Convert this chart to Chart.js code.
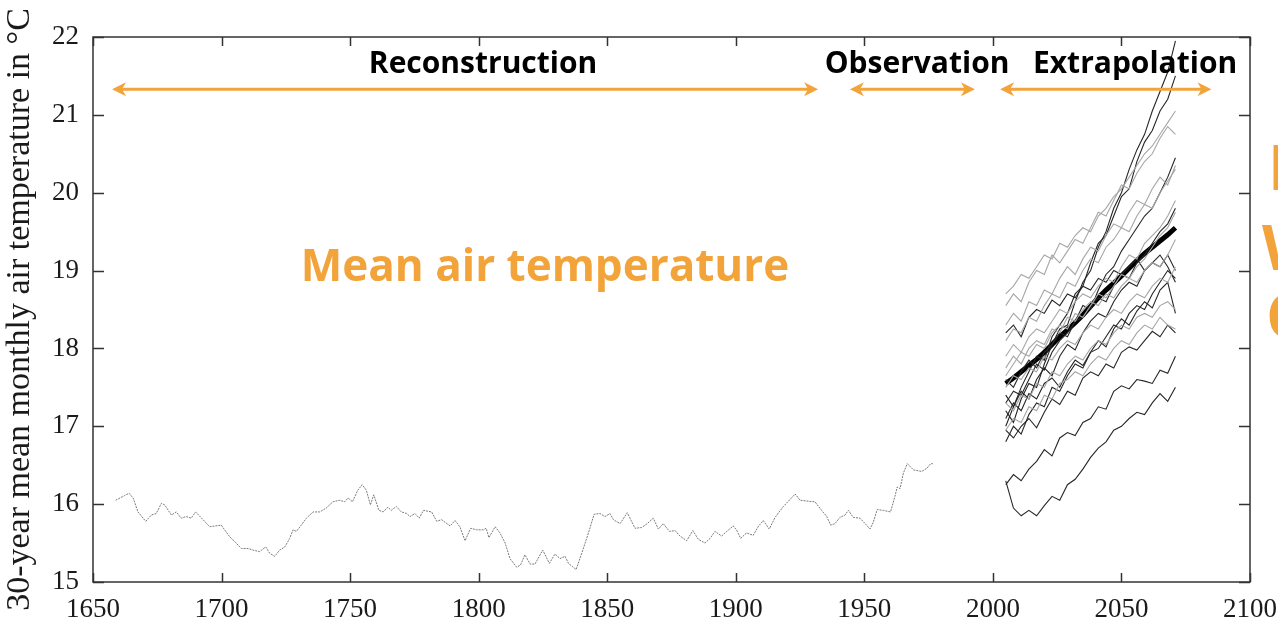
<!DOCTYPE html>
<html>
<head>
<meta charset="utf-8">
<script src="https://cdn.jsdelivr.net/npm/chart.js@4.4.1/dist/chart.umd.min.js"></script>
<style>
  html, body { margin: 0; padding: 0; background: #fff; }
  #wrap { width: 1278px; height: 624px; }
</style>
</head>
<body>
<div id="wrap"><canvas id="myChart" width="1278" height="624"></canvas></div>
<script>
// reconstruction + observation series (1659-1976)
const recYears = [1658.8,1662.3,1664,1665.6,1667.5,1670.5,1672.7,1674.6,1676.6,1677.9,1680.5,1682.4,1684.3,1686.3,1688.2,1689.9,1692.8,1695.4,1699.9,1701.2,1703.2,1705.1,1707.7,1710.3,1712.2,1714.8,1717.2,1718.7,1720.7,1722.6,1724.6,1726.5,1727.8,1729.1,1731,1733,1735.6,1738.2,1740.7,1743.3,1746,1747.9,1749.2,1750.9,1753,1754.7,1756.3,1757.9,1759.2,1761.2,1762.8,1764.7,1766,1768,1769.9,1772,1773.3,1775.2,1776.9,1778.5,1781.7,1783.7,1785.6,1788.9,1790.8,1792.7,1794.7,1796.9,1799.2,1801.8,1802.9,1804,1806.4,1808.3,1810.3,1812.2,1814.8,1816.3,1818,1820,1821.9,1824.9,1827.5,1829.7,1831.6,1833.6,1834.9,1837.9,1840.1,1842.7,1844.9,1847.2,1849.1,1851.1,1852.4,1855,1857.8,1860.8,1863.4,1865.6,1867.9,1869.9,1871.8,1874.2,1876.4,1878.3,1880.9,1883.3,1885.4,1888,1890,1891.9,1894.5,1896.5,1899,1900.3,1901.9,1904.2,1906.8,1908.7,1910.7,1913,1915.3,1918.5,1921.1,1923.1,1925,1927.6,1930.8,1933.4,1935.4,1936.9,1938.6,1940.5,1942.5,1943.8,1945.7,1948.3,1950.3,1952.2,1953.5,1955,1957.4,1960.2,1961.9,1962.8,1963.9,1965.2,1966.7,1969.1,1972.3,1974.3,1975.8,1976.6];
const recTemps = [16.05,16.11,16.14,16.08,15.90,15.78,15.86,15.88,16.01,15.99,15.86,15.90,15.82,15.84,15.82,15.90,15.80,15.71,15.73,15.67,15.58,15.52,15.43,15.43,15.41,15.39,15.45,15.37,15.33,15.41,15.45,15.56,15.67,15.65,15.73,15.82,15.90,15.90,15.95,16.03,16.05,16.03,16.08,16.03,16.18,16.25,16.18,15.99,16.12,15.92,15.90,15.96,15.92,15.97,15.90,15.88,15.84,15.88,15.82,15.92,15.90,15.78,15.80,15.72,15.79,15.71,15.53,15.69,15.67,15.67,15.69,15.57,15.71,15.63,15.50,15.30,15.19,15.22,15.35,15.23,15.23,15.41,15.24,15.36,15.30,15.33,15.24,15.16,15.37,15.63,15.87,15.88,15.84,15.88,15.80,15.75,15.89,15.69,15.70,15.75,15.82,15.68,15.75,15.65,15.66,15.59,15.53,15.66,15.55,15.50,15.56,15.65,15.59,15.65,15.72,15.67,15.56,15.63,15.60,15.71,15.79,15.68,15.83,15.97,16.06,16.13,16.05,16.04,16.03,15.92,15.84,15.73,15.75,15.83,15.86,15.92,15.83,15.82,15.75,15.68,15.77,15.93,15.92,15.90,16.10,16.22,16.20,16.40,16.52,16.44,16.42,16.46,16.52,16.52];

// extrapolation ensemble, one value every 3 years from 2005
const ensYears = [2005,2008,2011,2014,2017,2020,2023,2026,2029,2032,2035,2038,2041,2044,2047,2050,2053,2056,2059,2062,2065,2068,2071];
const ensDark = [
  [16.30,15.95,15.85,15.92,15.85,15.98,16.10,16.05,16.25,16.32,16.45,16.60,16.72,16.80,16.95,17.00,17.10,17.18,17.15,17.30,17.42,17.32,17.50],
  [16.25,16.38,16.30,16.45,16.55,16.70,16.62,16.85,16.92,16.88,17.05,17.10,17.25,17.22,17.45,17.52,17.48,17.60,17.58,17.55,17.72,17.68,17.90],
  [16.95,16.85,17.00,17.10,16.98,17.18,17.35,17.28,17.45,17.40,17.62,17.70,17.65,17.80,17.75,17.95,18.02,17.98,18.10,18.22,18.15,18.30,18.20],
  [17.10,17.30,17.20,17.42,17.35,17.55,17.62,17.50,17.70,17.85,17.78,17.95,18.10,18.02,18.25,18.38,18.30,18.48,18.60,18.52,18.75,18.85,18.45],
  [17.20,17.05,17.35,17.55,17.50,17.80,18.05,18.25,18.30,18.60,18.85,19.00,19.30,19.50,19.80,20.00,20.30,20.55,20.75,21.05,21.30,21.55,21.95],
  [17.40,17.25,17.50,17.70,17.90,17.85,18.15,18.30,18.45,18.70,18.80,19.10,19.35,19.45,19.70,19.95,20.05,20.40,20.65,20.80,21.05,21.20,21.50],
  [17.30,17.45,17.40,17.60,17.80,17.72,17.95,18.10,18.20,18.35,18.55,18.50,18.75,18.95,19.05,19.25,19.40,19.55,19.70,19.80,20.00,20.20,20.45],
  [17.00,17.25,17.45,17.35,17.60,17.75,17.65,17.90,18.05,17.98,18.20,18.35,18.45,18.40,18.60,18.75,18.85,18.80,19.00,19.10,19.05,19.20,19.00],
  [16.80,17.00,16.90,17.15,17.30,17.25,17.50,17.45,17.65,17.80,17.75,17.95,18.00,18.15,18.30,18.25,18.45,18.55,18.50,18.70,18.85,19.00,18.90],
  [18.20,18.30,18.15,18.40,18.50,18.45,18.62,18.55,18.70,18.65,18.80,18.75,18.90,18.85,19.00,18.95,19.05,19.15,19.00,19.10,19.20,19.05,18.85],
  [17.60,17.50,17.70,17.85,17.75,17.95,18.05,18.20,18.15,18.35,18.40,18.55,18.65,18.60,18.80,18.95,18.90,19.10,19.20,19.35,19.50,19.60,19.80]
];
const ensGrey = [
  [18.70,18.80,18.95,18.90,19.05,19.20,19.15,19.35,19.30,19.45,19.55,19.50,19.70,19.80,19.95,20.05,20.20,20.35,20.50,20.60,20.75,20.90,21.05],
  [18.55,18.70,18.60,18.85,19.00,18.95,19.20,19.10,19.25,19.40,19.35,19.55,19.75,19.70,19.90,20.10,20.05,20.25,20.40,20.50,20.70,20.85,20.75],
  [18.10,18.25,18.20,18.40,18.35,18.55,18.70,18.65,18.85,18.80,19.00,19.15,19.10,19.30,19.40,19.55,19.50,19.70,19.85,19.80,20.00,20.15,20.30],
  [17.90,18.05,17.95,18.15,18.25,18.20,18.35,18.50,18.45,18.60,18.70,18.65,18.80,18.90,18.85,19.05,19.20,19.15,19.35,19.45,19.55,19.70,19.90],
  [17.75,17.90,17.80,18.00,18.10,18.05,18.25,18.20,18.40,18.35,18.50,18.60,18.55,18.70,18.65,18.80,18.90,18.85,19.00,19.10,19.05,19.20,19.40],
  [17.50,17.65,17.60,17.75,17.70,17.90,17.85,18.00,18.10,18.05,18.20,18.30,18.25,18.40,18.50,18.45,18.60,18.70,18.65,18.80,18.90,18.85,19.05],
  [17.30,17.20,17.40,17.35,17.55,17.50,17.70,17.65,17.80,17.90,17.85,18.00,18.10,18.05,18.20,18.30,18.25,18.40,18.45,18.40,18.55,18.60,18.50],
  [16.95,17.10,17.05,17.25,17.20,17.40,17.35,17.55,17.60,17.70,17.65,17.80,17.90,17.85,18.00,18.10,18.05,18.20,18.30,18.25,18.40,18.30,18.25],
  [18.30,18.45,18.35,18.60,18.55,18.75,18.70,18.90,19.05,18.95,19.15,19.30,19.25,19.45,19.60,19.55,19.75,19.90,19.85,20.05,20.20,20.10,20.35],
  [17.65,17.80,17.95,17.90,18.05,18.00,18.20,18.30,18.25,18.45,18.40,18.55,18.70,18.65,18.80,18.95,18.90,19.05,19.15,19.30,19.45,19.55,19.75]
];
const ensMean = [17.55,17.62,17.70,17.78,17.86,17.95,18.05,18.15,18.24,18.33,18.43,18.54,18.65,18.75,18.84,18.93,19.03,19.13,19.22,19.30,19.38,19.46,19.55];

const xTicks = [1650,1700,1750,1800,1850,1900,1950,2000,2050,2100];
const yTicks = [15,16,17,18,19,20,21,22];

const ORANGE = '#F2A33A';

function toPoints(xs, ys){
  return xs.map((x, i) => ({x: x, y: ys[i]}));
}

const datasets = [];
datasets.push({
  data: toPoints(recYears, recTemps),
  borderColor: '#7a7a7a', borderWidth: 1, borderDash: [2, 1]
});
ensGrey.forEach(s => datasets.push({
  data: toPoints(ensYears, s), borderColor: '#a6a6a6', borderWidth: 1.1
}));
ensDark.forEach(s => datasets.push({
  data: toPoints(ensYears, s), borderColor: '#262626', borderWidth: 1.1
}));
datasets.push({
  data: toPoints(ensYears, ensMean), borderColor: '#000', borderWidth: 5
});

// text and arrows, placed in data units
const arrows = [
  {from: 1657.4, to: 1932, y: 21.33},
  {from: 1944.4, to: 1993, y: 21.33},
  {from: 2002.8, to: 2085, y: 21.33}
];
const labels = [
  {text: 'Reconstruction', x: 1801.7, y: 21.65},
  {text: 'Observation', x: 1970.5, y: 21.65},
  {text: 'Extrapolation', x: 2055.3, y: 21.65}
];

const framePlugin = {
  id: 'frame',
  afterDatasetsDraw(chart) {
    const {ctx, chartArea: a, scales: {x, y}} = chart;
    ctx.save();
    ctx.strokeStyle = '#333';
    ctx.lineWidth = 1.5;
    ctx.strokeRect(a.left, a.top, a.right - a.left, a.bottom - a.top);
    ctx.beginPath();
    xTicks.forEach(v => {
      const px = Math.round(x.getPixelForValue(v)) + 0.5;
      ctx.moveTo(px, a.bottom); ctx.lineTo(px, a.bottom - 9);
      ctx.moveTo(px, a.top); ctx.lineTo(px, a.top + 9);
    });
    yTicks.forEach(v => {
      const py = Math.round(y.getPixelForValue(v)) + 0.5;
      ctx.moveTo(a.left, py); ctx.lineTo(a.left + 11, py);
      ctx.moveTo(a.right, py); ctx.lineTo(a.right - 11, py);
    });
    ctx.stroke();

    // arrows
    ctx.strokeStyle = ORANGE;
    ctx.fillStyle = ORANGE;
    ctx.lineWidth = 3;
    arrows.forEach(ar => {
      const x1 = x.getPixelForValue(ar.from), x2 = x.getPixelForValue(ar.to);
      const py = y.getPixelForValue(ar.y);
      ctx.beginPath();
      ctx.moveTo(x1 + 6, py); ctx.lineTo(x2 - 6, py);
      ctx.stroke();
      ctx.beginPath();
      ctx.moveTo(x1, py); ctx.lineTo(x1 + 14, py - 7); ctx.lineTo(x1 + 10, py); ctx.lineTo(x1 + 14, py + 7);
      ctx.closePath(); ctx.fill();
      ctx.beginPath();
      ctx.moveTo(x2, py); ctx.lineTo(x2 - 14, py - 7); ctx.lineTo(x2 - 10, py); ctx.lineTo(x2 - 14, py + 7);
      ctx.closePath(); ctx.fill();
    });

    ctx.fillStyle = '#000';
    ctx.font = 'bold 30px "Open Sans"';
    ctx.textAlign = 'center';
    ctx.textBaseline = 'middle';
    labels.forEach(l => {
      ctx.fillText(l.text, x.getPixelForValue(l.x), y.getPixelForValue(l.y));
    });

    ctx.fillStyle = ORANGE;
    ctx.font = 'bold 44px "Open Sans"';
    ctx.fillText('Mean air temperature', x.getPixelForValue(1825.8), y.getPixelForValue(19.03));

    // letters cut off at the right edge
    ctx.font = 'bold 62px "Open Sans"';
    ctx.textAlign = 'left';
    ctx.fillText('E', 1268, 172);
    ctx.fillText('W', 1262, 252);
    ctx.fillText('C', 1266, 320);
    ctx.restore();
  }
};

const config = {
  type: 'line',
  data: {datasets: datasets},
  options: {
    responsive: false,
    animation: false,
    events: [],
    layout: {padding: {top: 37, right: 28, left: 0, bottom: 0}},
    elements: {point: {radius: 0}, line: {tension: 0}},
    plugins: {legend: {display: false}, tooltip: {enabled: false}},
    scales: {
      x: {
        type: 'linear', min: 1650, max: 2100,
        grid: {display: false, drawTicks: false},
        border: {display: false},
        afterBuildTicks: s => { s.ticks = xTicks.map(v => ({value: v})); },
        afterFit: s => { s.height = 42; s.paddingLeft = 0; s.paddingRight = 0; },
        ticks: {
          padding: 12, maxRotation: 0, autoSkip: false,
          callback: v => String(v),
          color: '#1a1a1a', font: {family: '"Liberation Serif"', size: 27}
        }
      },
      y: {
        min: 15, max: 22,
        grid: {display: false, drawTicks: false},
        border: {display: false},
        afterBuildTicks: s => { s.ticks = yTicks.map(v => ({value: v})); },
        afterFit: s => { s.width = 93; s.paddingTop = 0; s.paddingBottom = 0; },
        ticks: {
          padding: 14, color: '#1a1a1a',
          callback: v => String(v),
          font: {family: '"Liberation Serif"', size: 27}
        },
        title: {
          display: true, text: '30-year mean monthly air temperature in °C',
          color: '#1a1a1a', padding: {top: 0, bottom: 0},
          font: {family: '"Liberation Serif"', size: 34}
        }
      }
    }
  },
  plugins: [framePlugin]
};

const myChart = new Chart(document.getElementById('myChart'), config);
</script>
</body>
</html>
